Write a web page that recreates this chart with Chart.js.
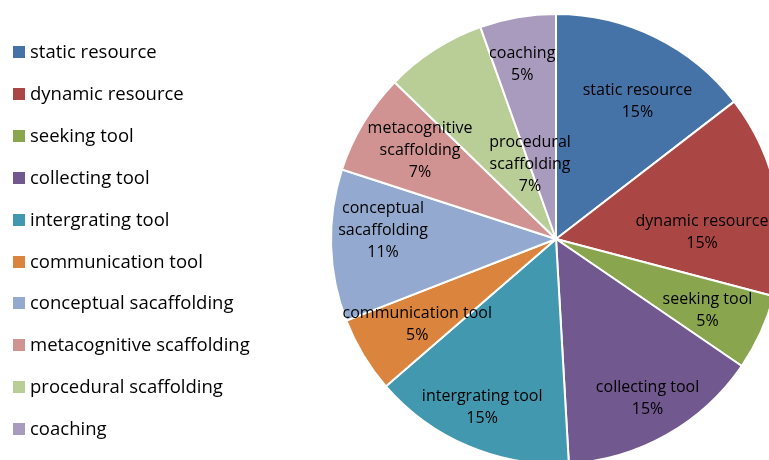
<!DOCTYPE html>
<html>
<head>
<meta charset="utf-8">
<script src="https://cdn.jsdelivr.net/npm/chart.js@4"></script>
<style>
  html, body { margin: 0; padding: 0; background: #fff; overflow: hidden; width: 769px; height: 460px; }
  #wrap { position: absolute; left: 0; top: 0; }
  #legend { position: absolute; left: 13px; top: 1px; font-family: "Open Sans", sans-serif; font-size: 18.5px; color: #000; }
  #legend .item { position: absolute; left: 0; white-space: nowrap; height: 20px; line-height: 20px; }
  #legend .box { position: absolute; left: 0; top: 4px; width: 12px; height: 12px; }
  #legend .txt { position: absolute; left: 17px; top: -1px; }
</style>
</head>
<body>
<div id="wrap"><canvas id="chart" width="800" height="480"></canvas></div>
<div id="legend"></div>
<script>
const categories = ['static resource', 'dynamic resource', 'seeking tool', 'collecting tool', 'intergrating tool',
    'communication tool', 'conceptual sacaffolding', 'metacognitive scaffolding', 'procedural scaffolding', 'coaching'];
const counts = [8, 8, 3, 8, 8, 3, 6, 4, 4, 3];
const colors = ['#4572A7', '#AA4643', '#89A54E', '#71588F', '#4198AF',
    '#DB843D', '#93A9CF', '#D19392', '#B9CD96', '#A99BBD'];

// how the category names wrap inside the slices
const sliceLines = [['static resource'], ['dynamic resource'], ['seeking tool'], ['collecting tool'], ['intergrating tool'],
    ['communication tool'], ['conceptual', 'sacaffolding'], ['metacognitive', 'scaffolding'], ['procedural', 'scaffolding'], ['coaching']];
// label placement: angle shift from slice middle (deg) and distance as share of radius
const labelShift = [4, 8.2, 0, -0.7, 1, 0, 5, 2.7, 14, -1];
const labelDist = [0.72, 0.65, 0.74, 0.81, 0.81, 0.72, 0.77, 0.727, 0.36, 0.80];

const total = counts.reduce((a, b) => a + b, 0);

// legend on the left
const legendDiv = document.getElementById('legend');
const legendTops = [41, 83, 125, 167, 209, 251, 292, 334, 376, 418];
categories.forEach((name, i) => {
    const item = document.createElement('div');
    item.className = 'item';
    item.style.top = legendTops[i] + 'px';
    const box = document.createElement('span');
    box.className = 'box';
    box.style.background = colors[i];
    const txt = document.createElement('span');
    txt.className = 'txt';
    txt.textContent = name;
    item.appendChild(box);
    item.appendChild(txt);
    legendDiv.appendChild(item);
});

const sliceLabels = {
    id: 'sliceLabels',
    afterDatasetsDraw(chart) {
        const ctx = chart.ctx;
        const meta = chart.getDatasetMeta(0);
        ctx.save();
        ctx.font = '16px "Open Sans", sans-serif';
        ctx.fillStyle = '#000';
        ctx.textAlign = 'center';
        ctx.textBaseline = 'middle';
        meta.data.forEach((arc, i) => {
            const p = arc.getProps(['x', 'y', 'startAngle', 'endAngle', 'outerRadius'], true);
            const mid = (p.startAngle + p.endAngle) / 2 + labelShift[i] * Math.PI / 180;
            const r = p.outerRadius * labelDist[i];
            const cx = p.x + Math.cos(mid) * r;
            const cy = p.y + Math.sin(mid) * r + 2;
            const lines = sliceLines[i].concat([Math.round(counts[i] / total * 100) + '%']);
            const lh = 22;
            lines.forEach((line, k) => {
                ctx.fillText(line, cx, cy + (k - (lines.length - 1) / 2) * lh);
            });
        });
        ctx.restore();
    }
};

const ctx = document.getElementById('chart').getContext('2d');
new Chart(ctx, {
    type: 'pie',
    data: {
        labels: categories,
        datasets: [{
            data: counts,
            backgroundColor: colors,
            borderColor: '#ffffff',
            borderWidth: 2
        }]
    },
    options: {
        responsive: false,
        animation: false,
        devicePixelRatio: 1,
        layout: { padding: { left: 330, top: 13, right: 18, bottom: 15 } },
        plugins: {
            legend: { display: false },
            tooltip: { enabled: false }
        }
    },
    plugins: [sliceLabels]
});
</script>
</body>
</html>
